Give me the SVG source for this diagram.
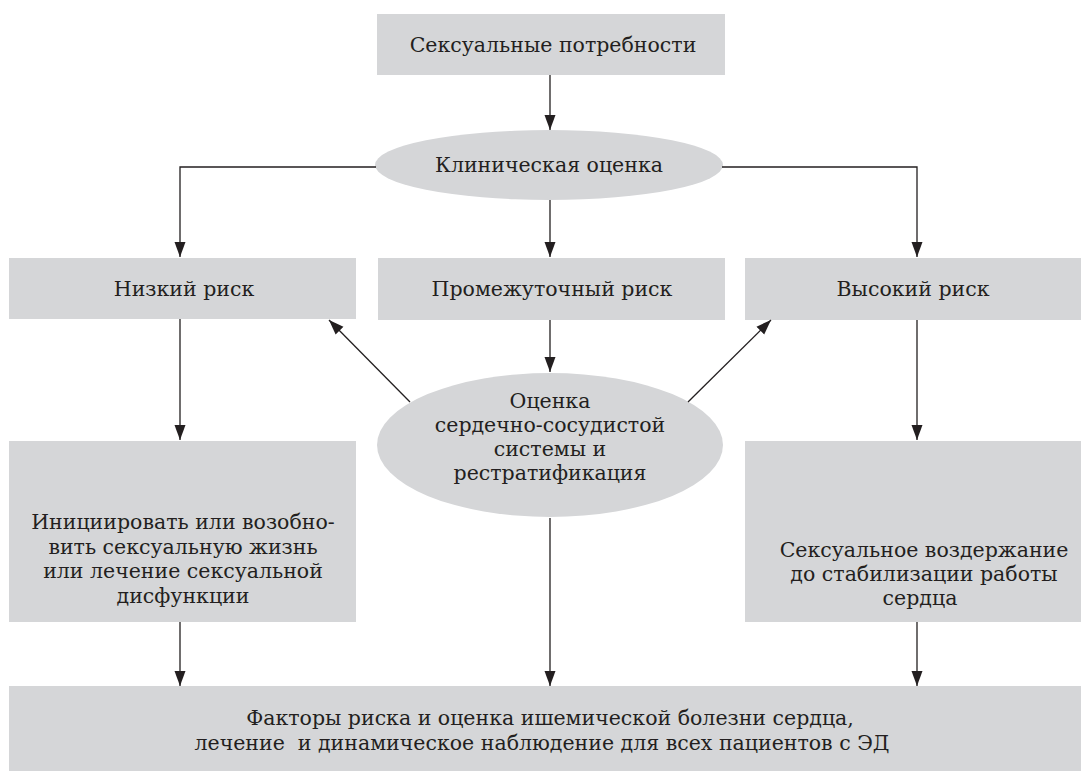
<svg xmlns="http://www.w3.org/2000/svg" width="1081" height="771" viewBox="0 0 1081 771">
  <style>
    .box { fill: #d5d6d8; stroke: none; }
    .t { font-family: "DejaVu Serif", serif; font-size: 20.5px; fill: #231f20; text-anchor: middle; }
    .c { fill: none; stroke: #231f20; stroke-width: 1.3; marker-end: url(#ah); }
  </style>
  <defs>
    <marker id="ah" markerUnits="userSpaceOnUse" markerWidth="16" markerHeight="12" refX="15" refY="6" orient="auto">
      <path d="M0,0.5 L15,6 L0,11.5 Z" fill="#231f20"/>
    </marker>
  </defs>
  <rect width="1081" height="771" fill="#ffffff"/>

  <g id="needs">
    <rect class="box" x="377" y="14" width="348" height="61"/>
    <text class="t" x="553" y="52">Сексуальные потребности</text>
  </g>
  <g id="clinical">
    <ellipse class="box" cx="549" cy="165" rx="174" ry="35"/>
    <text class="t" x="549" y="172">Клиническая оценка</text>
  </g>
  <g id="low">
    <rect class="box" x="9" y="258" width="347" height="61"/>
    <text class="t" x="184" y="296">Низкий риск</text>
  </g>
  <g id="mid">
    <rect class="box" x="378" y="258" width="347" height="62"/>
    <text class="t" x="552" y="296">Промежуточный риск</text>
  </g>
  <g id="high">
    <rect class="box" x="745" y="258" width="336" height="62"/>
    <text class="t" x="913" y="296">Высокий риск</text>
  </g>
  <g id="cardio">
    <ellipse class="box" cx="550" cy="445" rx="173" ry="72"/>
    <text class="t" x="550" y="408">Оценка</text>
    <text class="t" x="550" y="432">сердечно-сосудистой</text>
    <text class="t" x="550" y="456">системы и</text>
    <text class="t" x="550" y="480">рестратификация</text>
  </g>
  <g id="initiate">
    <rect class="box" x="9" y="441" width="347" height="181"/>
    <text class="t" x="183" y="529">Инициировать или возобно-</text>
    <text class="t" x="183" y="554">вить сексуальную жизнь</text>
    <text class="t" x="183" y="578">или лечение сексуальной</text>
    <text class="t" x="183" y="603">дисфункции</text>
  </g>
  <g id="abstain">
    <rect class="box" x="745" y="441" width="336" height="181"/>
    <text class="t" x="924" y="557">Сексуальное воздержание</text>
    <text class="t" x="924" y="581">до стабилизации работы</text>
    <text class="t" x="920" y="605">сердца</text>
  </g>
  <g id="factors">
    <rect class="box" x="9" y="686" width="1072" height="85"/>
    <text class="t" x="550" y="725">Факторы риска и оценка ишемической болезни сердца,</text>
    <text class="t" x="542" y="750" style="white-space:pre" xml:space="preserve">лечение  и динамическое наблюдение для всех пациентов с ЭД</text>
  </g>

  <g id="connectors">
    <path class="c" d="M550,75 L550,130"/>
    <path class="c" d="M376,167 L180,167 L180,257"/>
    <path class="c" d="M722,167 L917,167 L917,257"/>
    <path class="c" d="M550,200 L550,257"/>
    <path class="c" d="M550,320 L550,372"/>
    <path class="c" d="M410,402 L329,320"/>
    <path class="c" d="M688,402 L771,320"/>
    <path class="c" d="M180,319 L180,440"/>
    <path class="c" d="M917,320 L917,440"/>
    <path class="c" d="M180,622 L180,686"/>
    <path class="c" d="M550,518 L550,686"/>
    <path class="c" d="M917,622 L917,686"/>
  </g>
</svg>
